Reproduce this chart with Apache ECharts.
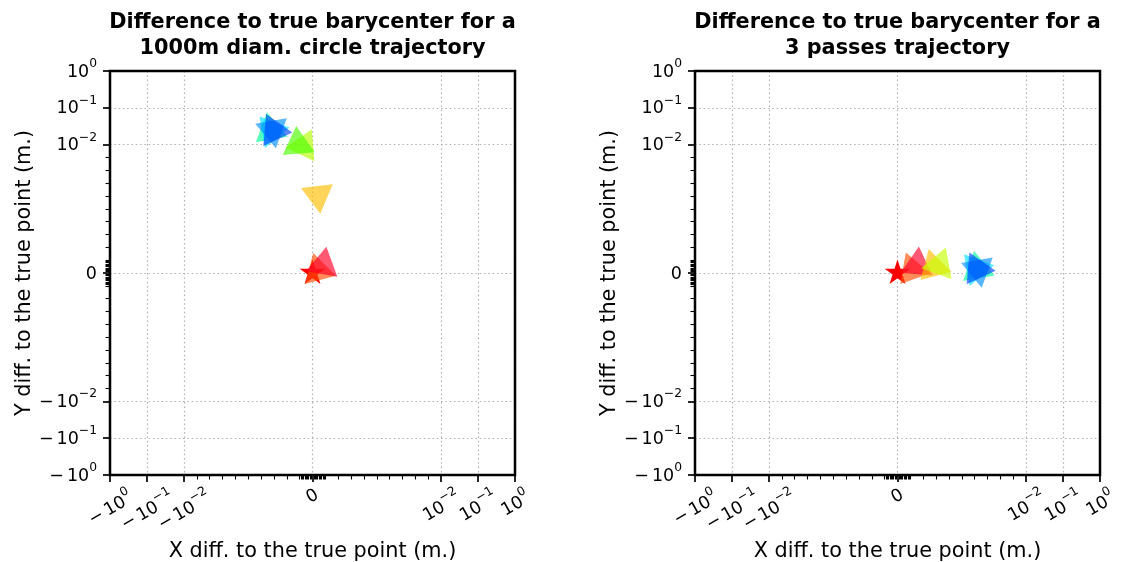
<!DOCTYPE html>
<html><head><meta charset="utf-8">
<script src="https://cdn.jsdelivr.net/npm/echarts@6/dist/echarts.min.js"></script>
<style>html,body{margin:0;padding:0;background:#fff}#c{width:1121px;height:562px}</style>
</head><body><div id="c"></div>
<script>
// ---------- data ----------
const titles = ['Difference to true barycenter for a\n1000m diam. circle trajectory',
                'Difference to true barycenter for a\n3 passes trajectory'];
const xAxisName = 'X diff. to the true point (m.)';
const yAxisName = 'Y diff. to the true point (m.)';
const tickValues = [-1, -0.1, -0.01, 0, 0.01, 0.1, 1];
const tickSign = ['−', '−', '−', '', '', '', ''];
const tickBase = ['10', '10', '10', '0', '10', '10', '10'];
const tickExp  = ['0', '−1', '−2', '', '−2', '−1', '0'];
const minorTickValues = [-0.009,-0.008,-0.007,-0.006,-0.005,-0.004,-0.003,-0.002,-0.001,
  -0.0009,-0.0008,-0.0007,-0.0006,-0.0005,-0.0004,-0.0003,-0.0002,-0.0001,
  0.0001,0.0002,0.0003,0.0004,0.0005,0.0006,0.0007,0.0008,0.0009,
  0.001,0.002,0.003,0.004,0.005,0.006,0.007,0.008,0.009];

// left panel: 1000m diam. circle trajectory
const circleX = [0, 0.00043, 0.00083, 0.00043, -0.00067, -0.00114, -0.0033, -0.0032, -0.0031, -0.0030];
const circleY = [0, 0.00016, 0.00063, 0.00606, 0.0099, 0.0102, 0.0245, 0.0240, 0.0250, 0.0238];
// right panel: 3 passes trajectory
const passesX = [0, 0.00114, 0.00154, 0.0028, 0.00327, 0.0062, 0.0061, 0.0063, 0.0062];
const passesY = [0, 0.00024, 0.00063, 0.00047, 0.00063, 0.0003, 0.00035, 0.00028, 0.0003];

// ---------- styles ----------
const circleMarker = ['star','tri','tri','tri','tri','tri','tri','tri','tri','tri'];
const circleColor  = ['#ff0000','#ff4d00','#ff0029','#ffbf00','#b3ff00','#4cff00','#00ff9a','#00e5ff','#0090ff','#0045ff'];
const circleAngle  = [0, 15, -10, 187, -25, 5, 10, 40, 70, -95];
const passesMarker = ['star','tri','tri','tri','tri','tri','tri','tri','tri'];
const passesColor  = ['#ff0000','#ff4d00','#ff0029','#ffbf00','#c8ff00','#00ff9a','#00e5ff','#0090ff','#0045ff'];
const passesAngle  = [0, 20, -5, 15, -20, 10, 40, 70, -95];

const F = 'DejaVu Sans';
const LINTHRESH = 0.01, LINDECADES = 3.48;
function symlog(v){
  const a = Math.abs(v);
  const t = a <= LINTHRESH ? a / LINTHRESH * LINDECADES : LINDECADES + Math.log10(a / LINTHRESH);
  return v < 0 ? -t : t;
}
const AX_MIN = symlog(-1), AX_MAX = symlog(1);
const majorPos = tickValues.map(symlog);
const minorPos = minorTickValues.map(symlog);
// x labels are spread over three stacked axes so that ECharts' min/max overlap check never hides one
const labelSets = [[0, 3, 6], [1, 5], [2, 4]].map(s => s.map(i => majorPos[i]));

const bound = 'M-1 0 M1 0 M0 -1 M0 1 ';
const triPath = 'path://' + bound + 'M0 -1 L0.866 0.5 L-0.866 0.5 Z';
let sp = bound;
for (let k = 0; k < 10; k++) {
  const r = k % 2 === 0 ? 1 : 0.381966;
  const ang = (-90 + 36 * k) * Math.PI / 180;
  sp += (k === 0 ? 'M' : 'L') + (r * Math.cos(ang)).toFixed(4) + ' ' + (r * Math.sin(ang)).toFixed(4) + ' ';
}
const starPath = 'path://' + sp + 'Z';

function labelIndex(v){
  for (let i = 0; i < majorPos.length; i++) if (Math.abs(majorPos[i] - v) < 1e-6) return i;
  return -1;
}
const BASE_FS = 17.5, SUP_FS = 12.3, SUP_RAISE = 16, MINUS_GAP = 3;
const mctx = document.createElement('canvas').getContext('2d');
function tw(t, fs){ mctx.font = fs + 'px "DejaVu Sans"'; return mctx.measureText(t).width; }

function labelText(i, suffix){
  let s = '';
  if (tickSign[i]) s += '{m' + suffix + '|' + tickSign[i] + '}';
  s += '{b' + suffix + '|' + tickBase[i] + '}';
  if (tickExp[i]) s += '{s' + suffix + '|' + tickExp[i] + '}';
  return s;
}
const Y_PT = 2;
const yRich = {
  m: {fontFamily: F, fontSize: BASE_FS, lineHeight: 20, color: '#000', padding: [Y_PT, MINUS_GAP, 0, 0]},
  b: {fontFamily: F, fontSize: BASE_FS, lineHeight: 20, color: '#000', padding: [Y_PT, 0, 0, 0]},
  s: {fontFamily: F, fontSize: SUP_FS, lineHeight: 14, color: '#000', padding: [Y_PT, 0, SUP_RAISE, 0]}
};
const xRich = {};
tickBase.forEach((b, i) => {
  const hasSup = tickExp[i] !== '';
  const w = (tickSign[i] ? tw(tickSign[i], BASE_FS) + MINUS_GAP : 0) + tw(b, BASE_FS) + (hasSup ? tw(tickExp[i], SUP_FS) : 0);
  const h = hasSup ? 24 : 20;
  const c = hasSup ? -2 : 0;
  const D = 0.25 * w + 0.433 * h;
  const W = D, P = Math.max(0, 2 * (0.866 * D - c));
  xRich['m' + i] = {fontFamily: F, fontSize: BASE_FS, lineHeight: 20, color: '#000', padding: [P, MINUS_GAP, 0, 0]};
  xRich['b' + i] = {fontFamily: F, fontSize: BASE_FS, lineHeight: 20, color: '#000', padding: [P, hasSup ? 0 : W, 0, 0]};
  xRich['s' + i] = {fontFamily: F, fontSize: SUP_FS, lineHeight: 14, color: '#000', padding: [P, W, SUP_RAISE, 0]};
});
const xLabel = (vals) => ({show: true, customValues: vals, rotate: 30, align: 'center', verticalAlign: 'middle', margin: 10,
  showMinLabel: true, showMaxLabel: true, hideOverlap: false,
  formatter: v => { const i = labelIndex(v); return i < 0 ? '' : labelText(i, String(i)); },
  rich: xRich});

const gridRects = [
  {left: 110, top: 71, width: 405, height: 404},
  {left: 695, top: 71, width: 405, height: 404}
];
const gridBase = {containLabel: false, outerBoundsMode: 'none'};
const grids = [];
gridRects.forEach(r => grids.push(Object.assign({show: false}, gridBase, r)));
gridRects.forEach(r => grids.push(Object.assign({show: true, z: 5, borderColor: '#000', borderWidth: 2.5, backgroundColor: 'transparent'}, gridBase, r)));
gridRects.forEach(r => grids.push(Object.assign({show: false}, gridBase, r)));

const splitStyle = {show: true, lineStyle: {color: '#b0b0b0', width: 1.2, type: [1.5, 2.8]}};
const nameStyle = {fontFamily: F, fontSize: 20.8, color: '#000'};
const noLine = {show: false, onZero: false};
const xAxes = [], yAxes = [];
[0, 1].forEach(gi => {
  xAxes.push({type: 'value', gridIndex: gi, min: AX_MIN, max: AX_MAX,
    name: xAxisName, nameLocation: 'middle', nameGap: 66, nameTextStyle: nameStyle,
    axisLine: noLine,
    axisTick: {show: true, customValues: majorPos, length: 7, lineStyle: {color: '#000', width: 1.7}},
    axisLabel: xLabel(labelSets[0]),
    splitLine: splitStyle});
  yAxes.push({type: 'value', gridIndex: gi, min: AX_MIN, max: AX_MAX,
    name: yAxisName, nameLocation: 'middle', nameGap: 74, nameTextStyle: nameStyle,
    axisLine: noLine,
    axisTick: {show: true, customValues: majorPos, length: 7, lineStyle: {color: '#000', width: 1.7}},
    axisLabel: {show: true, customValues: majorPos, margin: 13, showMinLabel: true, showMaxLabel: true,
      formatter: v => { const i = labelIndex(v); return i < 0 ? '' : labelText(i, ''); },
      rich: yRich},
    splitLine: splitStyle});
});
[2, 3].forEach(gi => {
  const minorTick = {show: true, customValues: minorPos, length: 4.5, lineStyle: {color: '#000', width: 1.1}};
  xAxes.push({type: 'value', gridIndex: gi, min: AX_MIN, max: AX_MAX, axisLine: noLine,
    axisTick: minorTick, axisLabel: xLabel(labelSets[1]), splitLine: {show: false}});
  yAxes.push({type: 'value', gridIndex: gi, min: AX_MIN, max: AX_MAX, axisLine: noLine,
    axisTick: minorTick, axisLabel: {show: false}, splitLine: {show: false}});
});
[4, 5].forEach(gi => {
  xAxes.push({type: 'value', gridIndex: gi, min: AX_MIN, max: AX_MAX, axisLine: noLine,
    axisTick: {show: false}, axisLabel: xLabel(labelSets[2]), splitLine: {show: false}});
  yAxes.push({type: 'value', gridIndex: gi, min: AX_MIN, max: AX_MAX, show: false});
});

function buildData(xs, ys, markers, colors, angles){
  return xs.map((x, i) => ({
    value: [symlog(x), symlog(ys[i])],
    symbol: markers[i] === 'star' ? starPath : triPath,
    symbolSize: markers[i] === 'star' ? 27 : 37,
    symbolRotate: angles[i],
    itemStyle: {color: colors[i], opacity: markers[i] === 'star' ? 1 : 0.65}
  }));
}

const option = {
  animation: false,
  backgroundColor: '#fff',
  title: titles.map((t, i) => ({text: t, left: i === 0 ? 312.5 : 897.5, top: 10, padding: 0, textAlign: 'center',
    textStyle: {fontFamily: F, fontSize: 20.8, fontWeight: 'bold', color: '#000', lineHeight: 26}})),
  grid: grids,
  xAxis: xAxes,
  yAxis: yAxes,
  series: [
    {type: 'scatter', xAxisIndex: 0, yAxisIndex: 0, symbolKeepAspect: true, clip: false,
     data: buildData(circleX, circleY, circleMarker, circleColor, circleAngle)},
    {type: 'scatter', xAxisIndex: 1, yAxisIndex: 1, symbolKeepAspect: true, clip: false,
     data: buildData(passesX, passesY, passesMarker, passesColor, passesAngle)}
  ]
};
const chart = echarts.init(document.getElementById('c'));
chart.setOption(option);
</script>
</body></html>
